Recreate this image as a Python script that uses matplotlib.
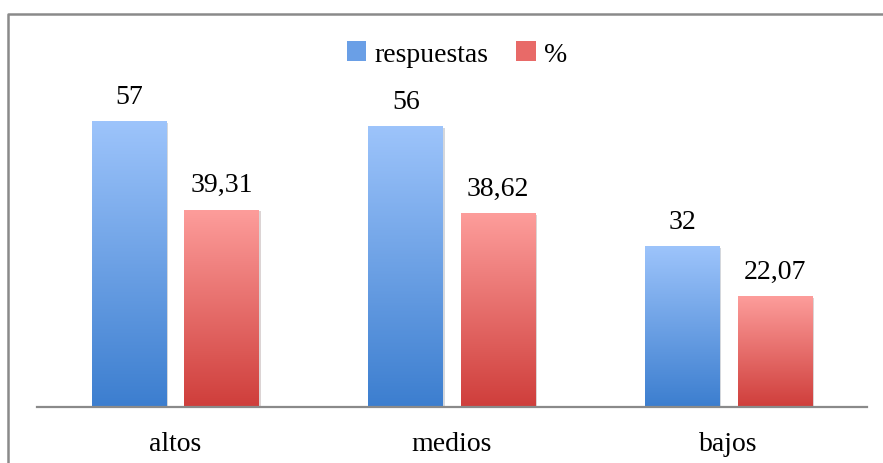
import numpy as np
import matplotlib
matplotlib.use("Agg")
import matplotlib.pyplot as plt
import matplotlib.patheffects as pe
from matplotlib.colors import LinearSegmentedColormap
from matplotlib.patches import Patch
from matplotlib.lines import Line2D

categories = ["altos", "medios", "bajos"]
respuestas = [57, 56, 32]
porcentaje = [39.31, 38.62, 22.07]
series_names = ["respuestas", "%"]

BLUE_TOP, BLUE_BOT = "#9dc4fb", "#3c7ecf"
RED_TOP, RED_BOT = "#fd9d9b", "#cf3e3b"
GRAY = "#8a8a8a"
FS = 20

plt.rcParams["font.family"] = ["Liberation Serif", "DejaVu Serif"]

fig = plt.figure(figsize=(8.83, 4.64), dpi=100)
ax = fig.add_axes([37 / 883, 1 - 408 / 464, 830 / 883, (408 - 107) / 464])

x = np.arange(len(categories))
w = 0.27
off = 0.167


def grad_bars(xs, vals, top, bot, fmt):
    bars = ax.bar(xs, vals, w, color=bot, zorder=1,
                  path_effects=[pe.SimplePatchShadow(offset=(1.2, -1.2), alpha=0.18),
                                pe.Normal()])
    cmap = LinearSegmentedColormap.from_list("g", [bot, top])
    grad = np.linspace(0, 1, 256).reshape(-1, 1)
    for b, v in zip(bars, vals):
        x0 = b.get_x()
        im = ax.imshow(grad, cmap=cmap, origin="lower", aspect="auto",
                       extent=[x0, x0 + b.get_width(), 0, v], zorder=2)
        im.set_clip_path(b)
        ax.annotate(fmt(v), (x0 + b.get_width() / 2, v), xytext=(0, 18),
                    textcoords="offset points", ha="center", va="center",
                    fontsize=FS, color="black")
    return bars


grad_bars(x - off, respuestas, BLUE_TOP, BLUE_BOT, lambda v: f"{v:d}")
grad_bars(x + off, porcentaje, RED_TOP, RED_BOT, lambda v: f"{v:.2f}".replace(".", ","))
ax.set_xlim(-0.5, 2.5)
ax.set_ylim(0, 60)

for s in ["top", "right", "left"]:
    ax.spines[s].set_visible(False)
ax.spines["bottom"].set_color(GRAY)
ax.spines["bottom"].set_linewidth(1.6)
ax.set_yticks([])
ax.set_xticks(x)
ax.set_xticklabels(categories, fontsize=FS)
ax.tick_params(axis="x", length=0, pad=17)

handles = [Patch(facecolor="#6a9fe6"), Patch(facecolor="#e86a68")]
fig.legend(handles, series_names, loc="center", bbox_to_anchor=(457 / 883, 1 - 55 / 464),
           ncol=2, frameon=False, fontsize=FS, handlelength=0.7, handleheight=0.7,
           handletextpad=0.3, columnspacing=1.0)

# chart border (left and top edges only visible)
bx, by = 8 / 883, 1 - 14.5 / 464
fig.add_artist(Line2D([bx, bx, 1], [0, by, by], color=GRAY, linewidth=1.8,
                      transform=fig.transFigure))

fig.savefig("out.png", dpi=100, facecolor="white")
